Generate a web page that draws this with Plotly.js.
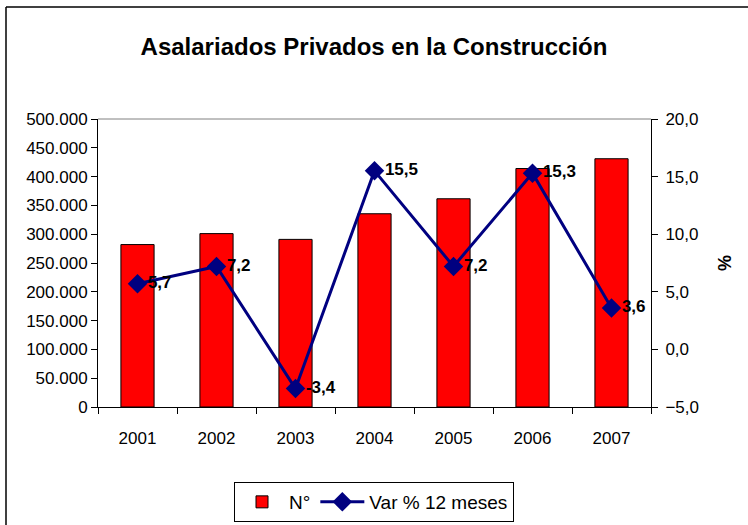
<!DOCTYPE html>
<html>
<head>
<meta charset="utf-8">
<script src="https://cdn.plot.ly/plotly-3.0.1.min.js"></script>
<style>
  body { margin: 0; background: #fff; }
  #chart { width: 748px; height: 525px; }
</style>
</head>
<body>
<div id="chart"></div>
<script>
const years = ['2001', '2002', '2003', '2004', '2005', '2006', '2007'];
const asalariados = [282000, 301000, 291000, 335500, 361500, 414000, 431000];
const varPct = [5.7, 7.2, -3.4, 15.5, 7.2, 15.3, 3.6];

const font = '"Liberation Sans", Arial, sans-serif';

const barTrace = {
    x: years,
    y: asalariados,
    type: 'bar',
    name: 'N°',
    marker: {color: '#FF0000', line: {color: '#000000', width: 1}},
    hoverinfo: 'skip'
};

const lineTrace = {
    x: years,
    y: varPct,
    yaxis: 'y2',
    type: 'scatter',
    mode: 'lines+markers+text',
    name: 'Var % 12 meses',
    line: {color: '#000080', width: 3},
    marker: {symbol: 'diamond', size: 15, color: '#000080'},
    texttemplate: '%{y:.1f}',
    textposition: 'middle right',
    textfont: {family: font, size: 17, color: '#000000', weight: 'bold'},
    cliponaxis: false
};

// plot area: x 98..651, y 119..407
const L = 98, R = 651, T = 119, B = 407;
const px = x => (x - L) / (R - L);
const py = y => (B - y) / (B - T);

const layout = {
    width: 748,
    height: 525,
    margin: {l: L, r: 748 - R, t: T, b: 525 - B, autoexpand: false},
    paper_bgcolor: '#ffffff',
    plot_bgcolor: '#ffffff',
    separators: ',.',
    font: {family: font, size: 17, color: '#000000'},
    title: {
        text: '<b>Asalariados Privados en la Construcción</b>',
        font: {family: font, size: 24, color: '#000000'},
        x: 0.5, xanchor: 'center', y: 1 - 47 / 525, yanchor: 'middle'
    },
    bargap: 0.58,
    showlegend: true,
    legend: {
        orientation: 'h',
        x: px(374), xanchor: 'center',
        y: py(482), yanchor: 'top',
        bordercolor: '#000000', borderwidth: 1,
        bgcolor: '#ffffff',
        font: {family: font, size: 19, color: '#000000'},
        itemwidth: 44,
        traceorder: 'normal'
    },
    xaxis: {
        type: 'category',
        showline: true, linecolor: '#000000', linewidth: 1,
        ticks: 'outside', tickson: 'boundaries', ticklen: 6, tickcolor: '#000000',
        ticklabelstandoff: 16,
        tickfont: {family: font, size: 17},
        showgrid: false, zeroline: false
    },
    yaxis: {
        range: [0, 500000], dtick: 50000, tickformat: ',d',
        showline: true, linecolor: '#000000', linewidth: 1,
        ticks: 'outside', ticklen: 6, tickcolor: '#000000',
        tickfont: {family: font, size: 17},
        showgrid: false, zeroline: false
    },
    yaxis2: {
        overlaying: 'y', side: 'right',
        range: [-5, 20], dtick: 5, tickformat: '.1f',
        showline: true, linecolor: '#000000', linewidth: 1,
        ticks: 'outside', ticklen: 6, tickcolor: '#000000',
        ticklabelstandoff: 4,
        tickfont: {family: font, size: 17},
        showgrid: false, zeroline: false,
        title: {text: '<b>%</b>', font: {family: font, size: 18}, standoff: 20}
    },
    shapes: [
        {type: 'line', xref: 'paper', yref: 'paper', x0: 0, x1: 1, y0: 1, y1: 1,
         line: {color: '#808080', width: 1}},
        {type: 'line', xref: 'paper', yref: 'paper', x0: px(6), x1: px(6), y0: py(7), y1: py(525),
         line: {color: '#000000', width: 1.5}},
        {type: 'line', xref: 'paper', yref: 'paper', x0: px(6), x1: px(748), y0: py(7), y1: py(7),
         line: {color: '#000000', width: 1.5}}
    ]
};

Plotly.newPlot('chart', [barTrace, lineTrace], layout, {displayModeBar: false, staticPlot: true});
</script>
</body>
</html>
